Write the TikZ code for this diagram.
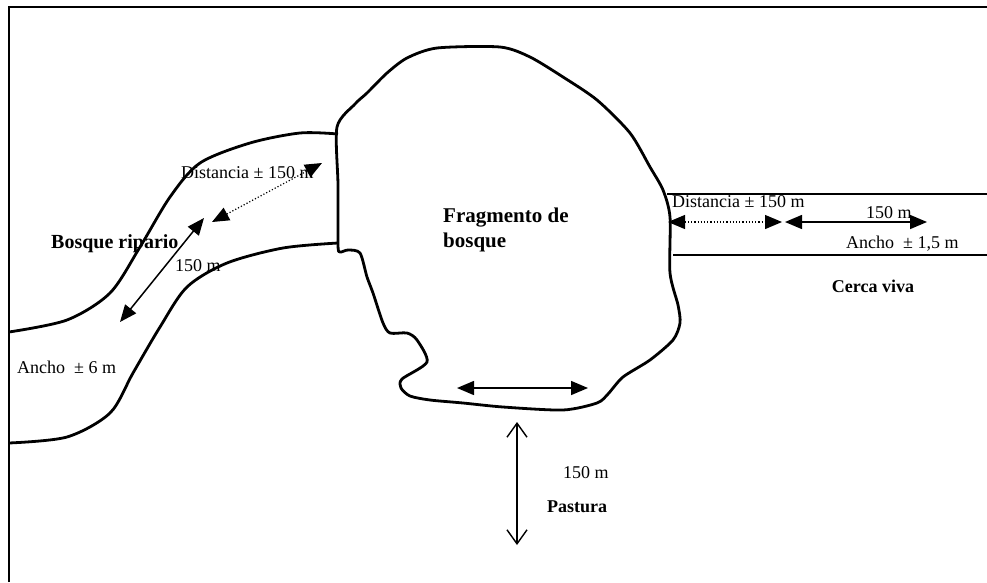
\documentclass[tikz,border=0pt]{standalone}
\usepackage{fontspec}
\setmainfont{Liberation Serif}
\usetikzlibrary{arrows.meta}

\tikzset{
  outline/.style={line width=2.8pt, line join=round},
  meas/.style={line width=1.5pt, {Triangle[length=17pt,width=14pt]}-{Triangle[length=17pt,width=14pt]}},
  dist/.style={meas, line width=1.2pt, dotted},
  openarr/.style={line width=1.4pt, {Straight Barb[length=14pt,width=20pt]}-{Straight Barb[length=14pt,width=20pt]}},
  txt/.style={font=\fontsize{18}{20}\selectfont, inner sep=0pt, anchor=west},
  title/.style={font=\fontsize{21}{25}\selectfont\bfseries, inner sep=0pt, anchor=west, align=left},
  small title/.style={title, font=\fontsize{18}{20}\selectfont\bfseries}
}

\begin{document}
\begin{tikzpicture}[x=1pt,y=-1pt]
\useasboundingbox (0,0) rectangle (987,582);
% frame (only top and left edge are visible)
\draw[line width=2pt] (9,582) -- (9,6.5) -- (987,6.5);

% forest fragment
\draw[outline] plot[smooth cycle, tension=0.45] coordinates {
  (338,245) (338,185) (337,127) (355,104) (367,93) (387,73) (407,58)
  (437,48) (500,47) (530,57) (563,77) (597,100) (630,133) (650,167)
  (663,190) (670,217) (670,273) (678,305) (680,323) (673,340) (650,360)
  (623,377) (608,394) (597,403) (563,410) (503,407) (463,403) (430,400)
  (410,396) (401,388) (402,379) (427,362) (417,340) (407,333) (390,333)
  (383,323) (373,293) (367,277) (360,253) (348,250) (340,252)};

% riparian forest
\draw[outline] plot[smooth, tension=0.5] coordinates {
  (9,332) (67,320) (110,293) (140,247) (170,197) (200,163) (250,143) (300,133) (338,134)};
\draw[outline] plot[smooth, tension=0.5] coordinates {
  (9,443) (67,437) (110,413) (133,373) (160,327) (187,287) (227,263) (283,248) (338,243)};

% live fence
\draw[outline] (667,194) -- (987,194);
\draw[outline] (673,255) -- (987,255);

% measures
\coordinate (rip-low) at (120,322);
\coordinate (rip-up) at (204,218);
\coordinate (rip-dist) at (212,222);
\coordinate (rip-edge) at (322,163);
\draw[meas] (rip-low) -- (rip-up);
\draw[dist] (rip-dist) -- (rip-edge);

\coordinate (frag-w) at (457,388);
\coordinate (frag-e) at (588,388);
\draw[meas] (frag-w) -- (frag-e);

\coordinate (pas-top) at (517,422);
\coordinate (pas-bot) at (517,545);
\draw[openarr] (pas-top) -- (pas-bot);

\coordinate (fen-edge) at (668,222);
\coordinate (fen-dist) at (782,222);
\coordinate (fen-start) at (785,222);
\coordinate (fen-end) at (927,222);
\draw[dist] (fen-edge) -- (fen-dist);
\draw[meas] (fen-start) -- (fen-end);

% labels
\node[txt] (rip-dist-lbl) at (181,173) {Distancia ± 150 m};
\node[title, font=\fontsize{20}{24}\selectfont\bfseries] (rip-name) at (51,244) {Bosque ripario};
\node[txt] (rip-len) at (175,266) {150 m};
\node[txt] (rip-width) at (17,367) {Ancho~ ± 6 m};
\node[title] (frag-name) at (443,230) {Fragmento de\\bosque};
\node[txt] (fen-dist-lbl) at (672,202) {Distancia ± 150 m};
\node[txt] (fen-len) at (866,213) {150 m};
\node[txt] (fen-width) at (846,244) {Ancho~ ± 1,5 m};
\node[small title, anchor=center] (fen-name) at (873,286) {Cerca viva};
\node[txt] (pas-len) at (563,473) {150 m};
\node[small title] (pas-name) at (547,507) {Pastura};
\end{tikzpicture}
\end{document}
